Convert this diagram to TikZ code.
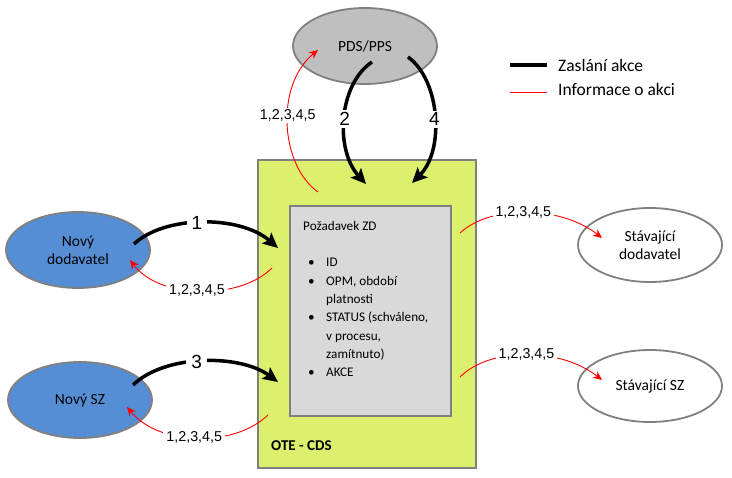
\documentclass[tikz,border=0pt]{standalone}
\usepackage{fontspec}
\setmainfont{Carlito}
\newfontfamily\arialf{Liberation Sans}
\usetikzlibrary{shapes.geometric,arrows.meta}
\definecolor{cdsyellow}{RGB}{221,240,110}
\definecolor{boxgray}{RGB}{217,217,217}
\definecolor{pdsgray}{RGB}{191,191,191}
\definecolor{nblue}{RGB}{85,142,213}
\definecolor{bordergray}{RGB}{128,128,128}
\newcommand{\bulitem}{\makebox[23pt][l]{\hspace*{5pt}\textbullet}}
\newcommand{\indentitem}{\makebox[23pt][l]{}}
\tikzset{
  ell/.style={ellipse, draw=bordergray, line width=1.8pt, minimum width=144pt, minimum height=76pt, inner sep=0pt, align=center, font=\fontsize{15.5}{18}\selectfont},
  action/.style={line width=3.5pt, -{Stealth[length=15pt,width=14pt,inset=3pt]}},
  info/.style={red, line width=0.9pt, -{Stealth[length=9pt,width=8pt]}},
  actlabel/.style={fill=white, inner xsep=5pt, inner ysep=2pt, font=\arialf\fontsize{19}{20}\selectfont, text=black},
  infolabel/.style={fill=white, inner xsep=3pt, inner ysep=1.5pt, font=\arialf\fontsize{14.3}{15}\selectfont, text=black},
}
\begin{document}
\begin{tikzpicture}[x=1pt,y=-1pt]
\useasboundingbox (0,0) rectangle (732,478);

% OTE-CDS box
\node[rectangle, draw=bordergray, fill=cdsyellow, line width=2.5pt, minimum width=218pt, minimum height=308pt, inner sep=0pt] (cds) at (367,314) {};
\node[anchor=west, font=\bfseries\fontsize{15}{18}\selectfont, inner sep=0pt] (cdslabel) at (271,446) {OTE - CDS};
% inner request box
\node[rectangle, draw=bordergray, fill=boxgray, line width=2.5pt, minimum width=161pt, minimum height=210pt, inner sep=0pt] (req) at (370.5,311) {};
\node[anchor=north west, align=left, inner sep=0pt, font=\fontsize{13.2}{18.3}\selectfont] (reqtext) at (303,221)
 {Požadavek ZD\\[18.3pt]
  \bulitem ID\\
  \bulitem OPM, období\\
  \indentitem platnosti\\
  \bulitem STATUS (schváleno,\\
  \indentitem v procesu,\\
  \indentitem zamítnuto)\\
  \bulitem AKCE};

% ellipses
\node[ell, fill=pdsgray] (pds) at (365,46) {PDS/PPS};
\node[ell, fill=nblue] (nd) at (78,250) {Nový\\dodavatel};
\node[ell, fill=nblue] (nsz) at (80,400) {Nový SZ};
\node[ell, fill=white, minimum height=74pt] (sd) at (650,245) {Stávající\\dodavatel};
\node[ell, fill=white, minimum height=72pt] (ssz) at (650,386) {Stávající SZ};

% coordinates for connector ends
\coordinate (nd1) at (134,244);
\coordinate (cds1) at (278,248);
\coordinate (nsz1) at (133,385);
\coordinate (cds3) at (278,382);
\coordinate (pds2) at (372,62);
\coordinate (cds2) at (366,184);
\coordinate (pds4) at (408,57);
\coordinate (cds4) at (412,183);
\coordinate (cdsA) at (318,192);
\coordinate (pdsA) at (318,50);
\coordinate (cdsB) at (272,268);
\coordinate (ndB) at (130,260);
\coordinate (cdsC) at (268,415);
\coordinate (nszC) at (127,407);
\coordinate (cdsD) at (460,233);
\coordinate (sdD) at (602,238);
\coordinate (cdsE) at (460,377);
\coordinate (sszE) at (602,380);

% action arrows
\draw[action] (nd1) .. controls (165,215) and (240,215) .. node[pos=0.46, actlabel] {1} (cds1);
\draw[action] (nsz1) .. controls (165,354) and (240,354) .. node[pos=0.46, actlabel] {3} (cds3);
\draw[action] (pds2) .. controls (338,85) and (335,150) .. node[pos=0.5, actlabel] {2} (cds2);
\draw[action] (pds4) .. controls (440,80) and (445,150) .. node[pos=0.52, actlabel] {4} (cds4);

% info arrows
\draw[info] (cdsA) .. controls (280,165) and (275,85) .. node[pos=0.55, infolabel] {1,2,3,4,5} (pdsA);
\draw[info] (cdsB) .. controls (240,300) and (160,300) .. node[pos=0.52, infolabel] {1,2,3,4,5} (ndB);
\draw[info] (cdsC) .. controls (235,447) and (160,447) .. node[pos=0.52, infolabel] {1,2,3,4,5} (nszC);
\draw[info] (cdsD) .. controls (490,205) and (560,205) .. node[pos=0.48, infolabel] {1,2,3,4,5} (sdD);
\draw[info] (cdsE) .. controls (490,347) and (560,347) .. node[pos=0.5, infolabel] {1,2,3,4,5} (sszE);

% legend
\coordinate (lg1a) at (510,65);
\coordinate (lg1b) at (547,65);
\coordinate (lg2a) at (510,92);
\coordinate (lg2b) at (547,92);
\draw[line width=3.5pt] (lg1a) -- (lg1b);
\draw[red, line width=0.9pt] (lg2a) -- (lg2b);
\node[anchor=west, inner sep=0pt, font=\fontsize{17.5}{20}\selectfont] (lgt1) at (558,65) {Zaslání akce};
\node[anchor=west, inner sep=0pt, font=\fontsize{17.5}{20}\selectfont] (lgt2) at (558,89) {Informace o akci};
\end{tikzpicture}
\end{document}
